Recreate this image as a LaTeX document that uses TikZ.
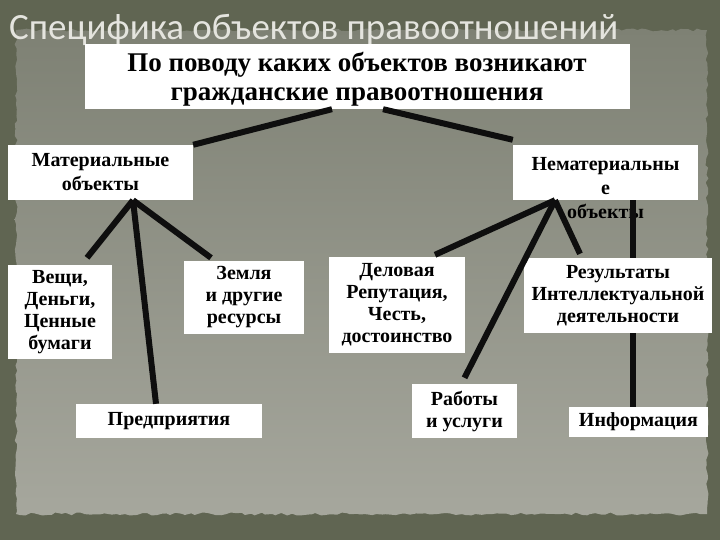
\documentclass[tikz,border=0pt]{standalone}
\usepackage{fontspec}
\setmainfont{Liberation Serif}
\newfontfamily\titlefont{Carlito}
\usetikzlibrary{decorations.pathmorphing}

\definecolor{olivebg}{RGB}{96,101,82}
\definecolor{papertop}{RGB}{126,129,116}
\definecolor{paperbot}{RGB}{166,167,157}
\definecolor{titlegray}{RGB}{228,228,222}
\definecolor{linkblack}{RGB}{14,14,14}

\tikzset{
  box/.style={fill=white, inner sep=0pt, align=center,
    font=\bfseries\fontsize{20}{22}\selectfont},
  bigbox/.style={box, font=\bfseries\fontsize{27}{29}\selectfont},
  link/.style={draw=linkblack, line width=6pt},
}

\begin{document}
\begin{tikzpicture}[x=1pt,y=-1pt]
\useasboundingbox (0,0) rectangle (720,540);
% background and paper
\fill [olivebg] (0,0) rectangle (720,540);
\shade [top color=papertop, bottom color=paperbot, decorate,
  decoration={random steps,segment length=5pt,amplitude=1.5pt}]
  (16,30) rectangle (707,514);
\node [anchor=base west, inner sep=0pt, text=titlegray,
  font=\titlefont\fontsize{37}{40}\selectfont] (title) at (9,40)
  {Специфика объектов правоотношений};

% boxes
\node [bigbox, minimum width=545pt, minimum height=65pt] (q) at (357,76.5)
  {\raisebox{-10pt}[0pt][0pt]{\begin{tabular}{@{}c@{}}По поводу каких объектов возникают\\гражданские правоотношения\end{tabular}}};
\node [box, font=\bfseries\fontsize{20}{24}\selectfont,
  minimum width=185pt, minimum height=55pt] (mat) at (100.5,172.5)
  {Материальные\\объекты};
\node [box, font=\bfseries\fontsize{20}{24}\selectfont,
  minimum width=185pt, minimum height=55pt] (nemat) at (605.5,172.5)
  {\raisebox{4pt}{\smash{\begin{tabular}[t]{@{}c@{}}Нематериальны\\е\\объекты\end{tabular}}}};
\node [box, minimum width=104pt, minimum height=94pt] (veshi) at (60,312)
  {Вещи,\\Деньги,\\Ценные\\бумаги};
\node [box, minimum width=120pt, minimum height=73pt] (zemlya) at (244,297.5)
  {Земля\\и другие\\ресурсы};
\node [box, minimum width=136pt, minimum height=96pt] (delov) at (397,305)
  {Деловая\\Репутация,\\Честь,\\достоинство};
\node [box, minimum width=188pt, minimum height=75pt] (rezult) at (618,295.5)
  {Результаты\\Интеллектуальной\\деятельности};
\node [box, minimum width=186pt, minimum height=34pt] (predpr) at (169,421)
  {Предприятия};
\node [box, minimum width=105pt, minimum height=54pt] (raboty) at (464.5,411)
  {Работы\\и услуги};
\node [box, minimum width=139pt, minimum height=30pt] (info) at (638.5,422)
  {Информация};

% connectors
\coordinate (matfoot) at ([xshift=32.5pt]mat.south);
\coordinate (nematfoot) at ([xshift=-50.5pt]nemat.south);
\draw [link] ([xshift=-25pt]q.south) -- (mat.north east);
\draw [link] ([xshift=26pt]q.south) -- ([yshift=5pt]nemat.north west);
\draw [link] (matfoot) -- ([xshift=27pt,yshift=7pt]veshi.north);
\draw [link] (matfoot) -- ([xshift=-33pt,yshift=3pt]zemlya.north);
\draw [link] (matfoot) -- ([xshift=-13pt]predpr.north);
\draw [link] (nematfoot) -- ([xshift=38pt,yshift=2pt]delov.north);
\draw [link] (nematfoot) -- ([xshift=-38pt,yshift=4pt]rezult.north);
\draw [link] (nematfoot) -- ([yshift=6pt]raboty.north);
\draw [link] ([xshift=27.5pt]nemat.south) -- ([xshift=15pt]rezult.north);
\draw [link] ([xshift=15pt]rezult.south) -- ([xshift=-5.5pt]info.north);
\end{tikzpicture}
\end{document}
